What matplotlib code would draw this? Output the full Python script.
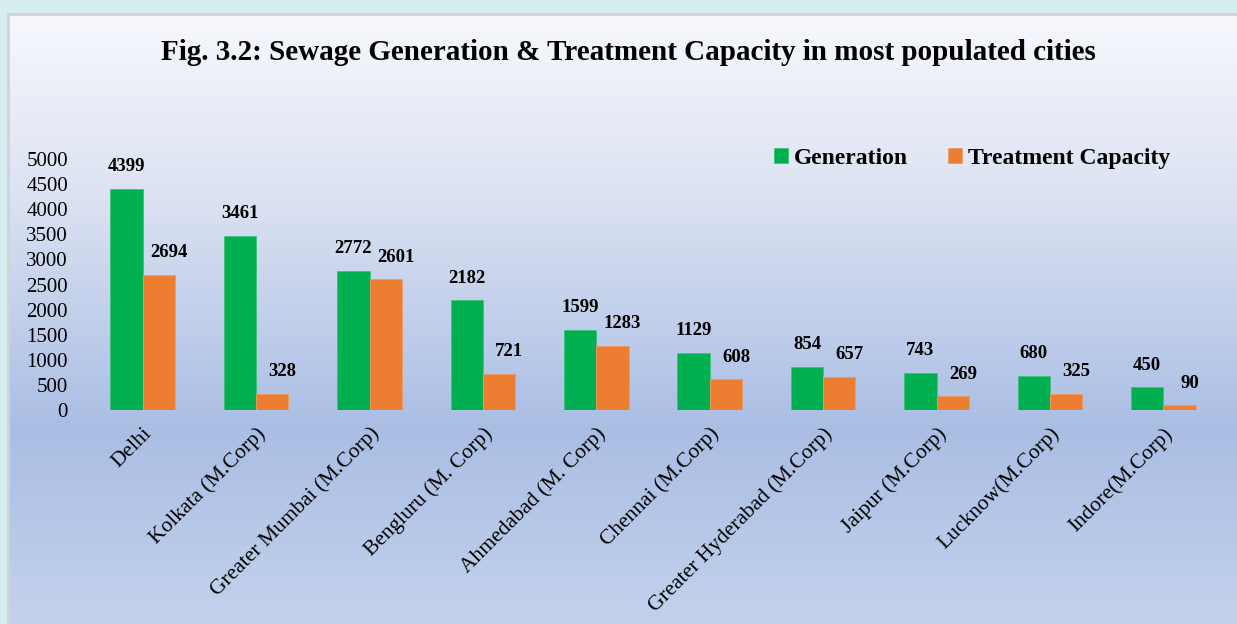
import matplotlib.pyplot as plt
import numpy as np
from matplotlib.colors import LinearSegmentedColormap

cities = ["Delhi", "Kolkata (M.Corp)", "Greater Mumbai (M.Corp)", "Bengluru (M. Corp)",
          "Ahmedabad (M. Corp)", "Chennai (M.Corp)", "Greater Hyderabad (M.Corp)",
          "Jaipur (M.Corp)", "Lucknow(M.Corp)", "Indore(M.Corp)"]
generation = [4399, 3461, 2772, 2182, 1599, 1129, 854, 743, 680, 450]
treatment  = [2694, 328, 2601, 721, 1283, 608, 657, 269, 325, 90]
yticks = [0, 500, 1000, 1500, 2000, 2500, 3000, 3500, 4000, 4500, 5000]

plt.rcParams['font.family'] = ['Liberation Serif', 'DejaVu Serif']

W, H = 1237, 624
fig = plt.figure(figsize=(W/100, H/100), dpi=100)
fig.patch.set_facecolor('#d6eef0')

# panel with vertical gradient
panel = fig.add_axes([8/W, 0, 1, 1 - 14/H])
grad = LinearSegmentedColormap.from_list(
    'bg', [(0, '#f7f8fd'), (0.3, '#dbe2f2'), (0.68, '#aabee4'), (1, '#c3d2ec')])
panel.imshow(np.linspace(0, 1, 256).reshape(-1, 1), cmap=grad, aspect='auto',
             extent=[0, 1, 0, 1], origin='upper')
panel.set_xticks([]); panel.set_yticks([])
for s in panel.spines.values():
    s.set_color('#d0d4d8'); s.set_linewidth(2)
panel.set_zorder(0)

# main chart
y0, y1 = 410, 159
ax = fig.add_axes([86/W, 1 - y0/H, (1220-86)/W, (y0-y1)/H])
ax.set_zorder(1)
ax.patch.set_alpha(0)

x = np.arange(len(cities))
w = 0.285
b1 = ax.bar(x - w/2, generation, w, color='#00b050', edgecolor='#3fc07a', linewidth=0.6, label='Generation')
b2 = ax.bar(x + w/2, treatment, w, color='#ed7d31', edgecolor='#f09a60', linewidth=0.6, label='Treatment Capacity')
# orange value labels sit a little to the right of their bars
for bars, vals, dx in ((b1, generation, 0.0), (b2, treatment, 0.09)):
    for r, v in zip(bars, vals):
        ax.annotate(str(v), (r.get_x() + r.get_width()/2 + dx, v), xytext=(0, 10),
                    textcoords='offset points', ha='center', va='bottom',
                    fontsize=13.5, fontweight='bold')

ax.set_xlim(-0.5, len(cities) - 0.5)
ax.set_ylim(0, 5000)
ax.set_yticks(yticks)
ax.set_yticklabels([str(t) for t in yticks], fontsize=15)
ax.tick_params(axis='y', length=0, pad=13)
ax.set_xticks(x)
ax.set_xticklabels(cities, rotation=45, ha='right', rotation_mode='anchor', fontsize=15.5)
ax.tick_params(axis='x', length=0, pad=10)
for s in ax.spines.values():
    s.set_visible(False)

leg = ax.legend(loc='upper right', bbox_to_anchor=(0.975, 1.13), ncol=2, frameon=False,
                prop={'size': 17, 'weight': 'bold'}, handlelength=0.6, handleheight=0.6,
                handletextpad=0.25, columnspacing=1.7)

fig.text(628/W, 1 - 52/H, "Fig. 3.2: Sewage Generation & Treatment Capacity in most populated cities",
         ha='center', va='center', fontsize=21, fontweight='bold')

fig.savefig('out.png', dpi=100, facecolor=fig.get_facecolor())
